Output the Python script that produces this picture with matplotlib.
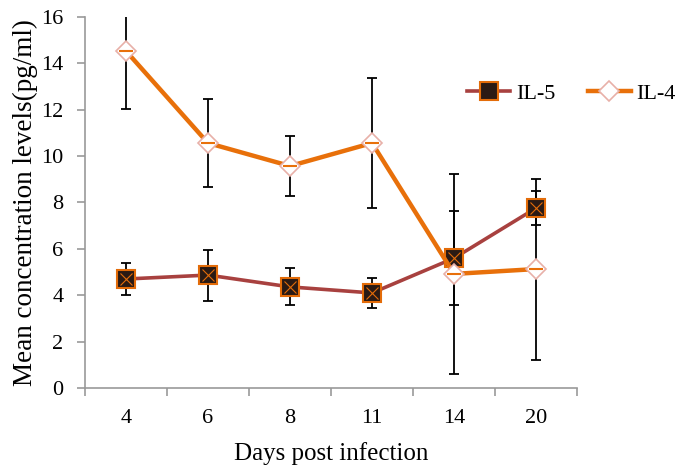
import matplotlib
matplotlib.use("Agg")
import matplotlib.pyplot as plt
import numpy as np

days = ["4", "6", "8", "11", "14", "20"]
il5 = [4.70, 4.87, 4.36, 4.10, 5.60, 7.76]
il5_err = [0.67, 1.10, 0.80, 0.65, 2.03, 0.75]
il4 = [14.53, 10.56, 9.57, 10.56, 4.92, 5.13]
il4_err = [2.50, 1.90, 1.30, 2.80, 4.30, 3.90]
yticks = [0, 2, 4, 6, 8, 10, 12, 14, 16]

plt.rcParams['font.family'] = ['Liberation Serif', 'DejaVu Serif']

fig = plt.figure(figsize=(6.79, 4.67), dpi=100)
ax = fig.add_axes([0.125, 0.169, 0.725, 0.795])
x = np.arange(len(days))

ax.errorbar(x, il5, yerr=il5_err, fmt='none', ecolor='black', elinewidth=1.3, capsize=3.5, capthick=1.3, zorder=2)
ax.errorbar(x, il4, yerr=il4_err, fmt='none', ecolor='black', elinewidth=1.3, capsize=3.5, capthick=1.3, zorder=2)
l5, = ax.plot(x, il5, color='#A8413F', lw=2.6, marker='s', ms=13.5, mfc='#2a1a14', mec='#E36C09', mew=1.5, label='IL-5', zorder=3)
l4, = ax.plot(x, il4, color='#E8700A', lw=3.2, marker='D', ms=10.5, mfc='white', mec='#E8B0A8', mew=1.2, label='IL-4', zorder=4)
ax.plot(x, il4, ls='none', marker='_', ms=10, mec='#E8700A', mew=1.5, zorder=5)
ax.plot(x, il5, ls='none', marker='x', ms=9, mec='#E36C09', mew=0.8, zorder=4)

ax.set_ylim(0, 16)
ax.set_yticks(yticks)
ax.set_xlim(-0.5, len(days) - 0.5)
ax.set_xticks(x)
ax.set_xticklabels(days)
ax.set_xticks(np.arange(-0.5, len(days)), minor=True)
ax.tick_params(axis='x', which='major', length=0, labelsize=16, pad=15)
ax.tick_params(axis='x', which='minor', length=6, color='#999999', width=1.2)
ax.tick_params(axis='y', length=6, color='#999999', width=1.2, labelsize=16, pad=9.5)
for s in ['top', 'right']:
    ax.spines[s].set_visible(False)
for s in ['left', 'bottom']:
    ax.spines[s].set_color('#999999')
    ax.spines[s].set_linewidth(1.2)

ax.set_ylabel('Mean concentration levels(pg/ml)', fontsize=19.5, labelpad=2)
ax.set_xlabel('Days post infection', fontsize=18, labelpad=10)

fig.legend(handles=[l5, l4], loc='center left', bbox_to_anchor=(0.688, 0.80), ncol=2, frameon=False,
           fontsize=16, handlelength=1.95, columnspacing=1.45, handletextpad=0.25, borderpad=0, borderaxespad=0)

fig.savefig('out.png', dpi=100)
